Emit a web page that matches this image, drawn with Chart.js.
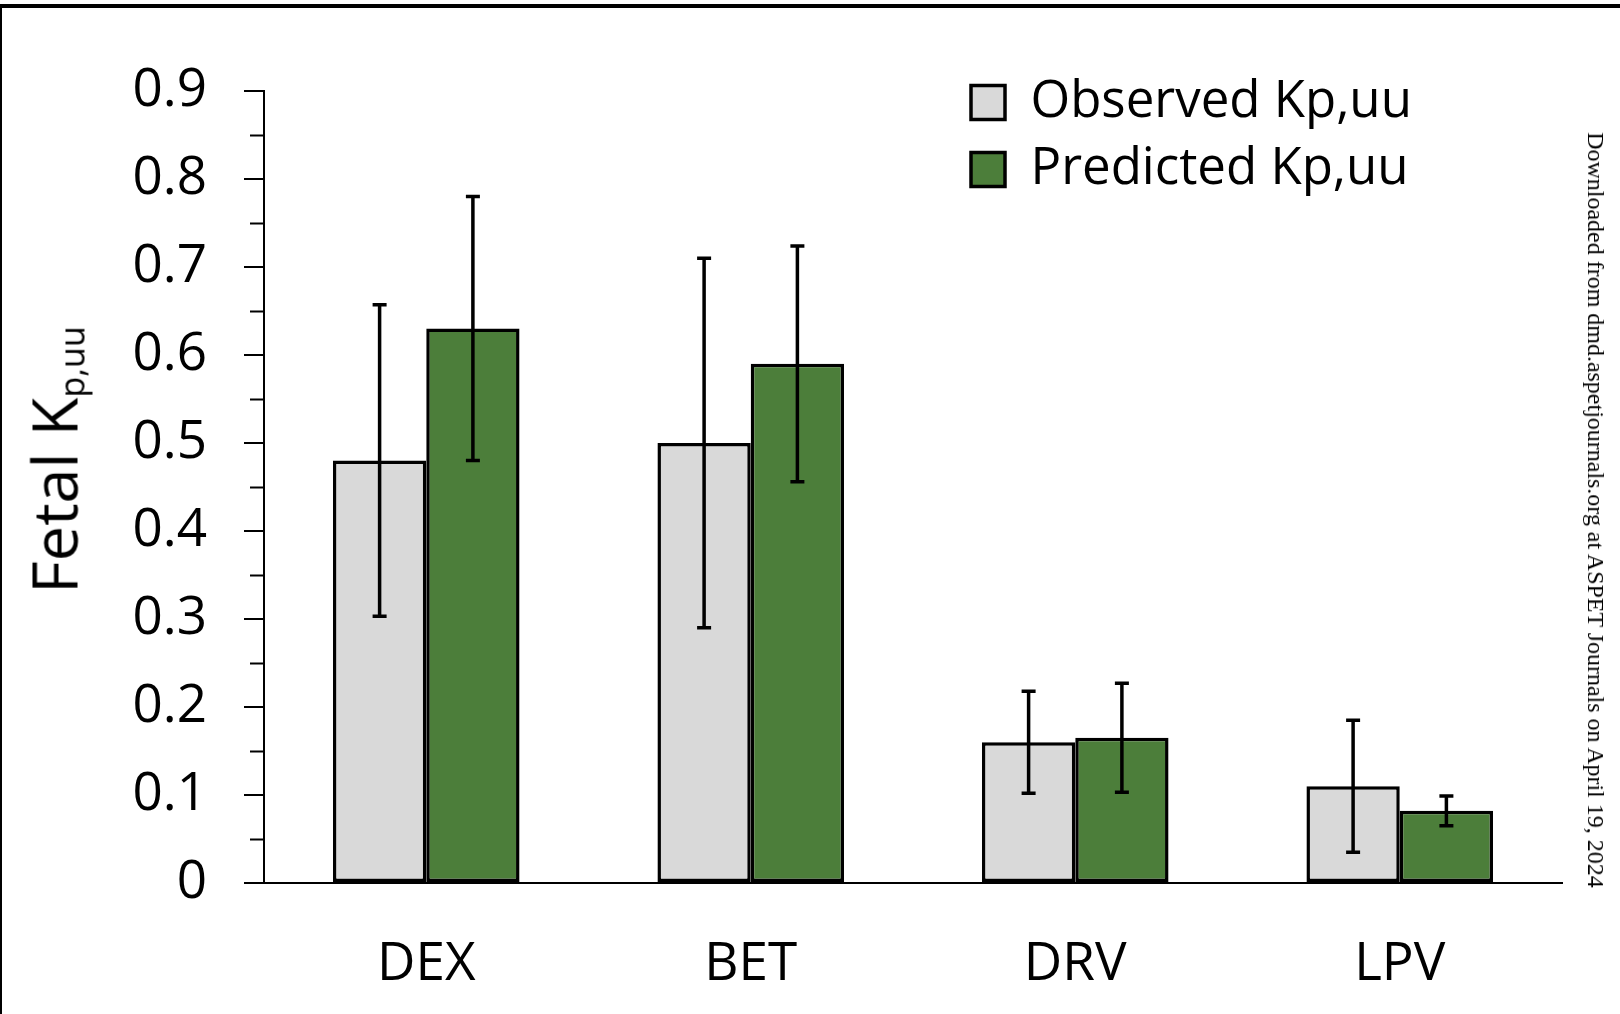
<!DOCTYPE html>
<html>
<head>
<meta charset="utf-8">
<script src="https://cdn.jsdelivr.net/npm/chart.js@4.4.1/dist/chart.umd.min.js"></script>
<style>
html, body { margin: 0; padding: 0; background: #fff; }
#wrap { position: relative; width: 1620px; height: 1014px; overflow: hidden; }
#frame { position: absolute; left: 0; top: 4px; width: 1700px; height: 1100px; border-top: 4px solid #000; border-left: 2px solid #000; }
#chart { position: absolute; left: 0; top: 0; }
#ytitle { position: absolute; left: 53px; top: 460px; transform: translate(-50%, -50%) rotate(-90deg);
  font-family: 'Open Sans'; font-size: 63px; line-height: 1; white-space: nowrap; color: #000; }
#ytitle sub { font-size: 34px; vertical-align: baseline; position: relative; top: 7px; line-height: 0; }
#note { position: absolute; left: 1596px; top: 510px; font-family: 'Liberation Serif', 'DejaVu Serif', 'Times New Roman', serif;
  font-size: 24px; line-height: 1; white-space: nowrap; color: #000; }
</style>
</head>
<body>
<div id="wrap">
  <div id="frame"></div>
  <canvas id="chart" width="1620" height="1014"></canvas>
  <div id="ytitle">Fetal K<sub>p,uu</sub></div>
  <div id="note">Downloaded from dmd.aspetjournals.org at ASPET Journals on April 19, 2024</div>
</div>
<script>
var drugs = ["DEX", "BET", "DRV", "LPV"];
var observed = [0.48, 0.50, 0.16, 0.11];
var observedErr = [0.177, 0.21, 0.058, 0.075];
var predicted = [0.63, 0.59, 0.165, 0.082];
var predictedErr = [0.15, 0.134, 0.062, 0.017];
var yTickLabels = ["0", "0.1", "0.2", "0.3", "0.4", "0.5", "0.6", "0.7", "0.8", "0.9"];

// squeeze the side note to the length it has in the figure
var note = document.getElementById('note');
var sx = 755 / note.offsetWidth;
note.style.transform = 'translate(-50%, -50%) rotate(90deg) scale(' + sx + ', 1)';

// error bars, drawn through the y scale
var errorBars = {
    id: 'errorBars',
    afterDatasetsDraw: function(chart) {
        var ctx = chart.ctx;
        var y = chart.scales.y;
        var errs = [observedErr, predictedErr];
        ctx.save();
        ctx.strokeStyle = '#000';
        ctx.lineWidth = 3.5;
        chart.data.datasets.forEach(function(ds, i) {
            chart.getDatasetMeta(i).data.forEach(function(bar, j) {
                var hi = y.getPixelForValue(ds.data[j] + errs[i][j]);
                var lo = y.getPixelForValue(ds.data[j] - errs[i][j]);
                ctx.beginPath();
                ctx.moveTo(bar.x, hi); ctx.lineTo(bar.x, lo);
                ctx.moveTo(bar.x - 7, hi); ctx.lineTo(bar.x + 7, hi);
                ctx.moveTo(bar.x - 7, lo); ctx.lineTo(bar.x + 7, lo);
                ctx.stroke();
            });
        });
        ctx.restore();
    }
};

// short minor ticks halfway between the labelled ones
var minorTicks = {
    id: 'minorTicks',
    afterDraw: function(chart) {
        var y = chart.scales.y;
        var ctx = chart.ctx;
        ctx.save();
        ctx.strokeStyle = '#000';
        ctx.lineWidth = 2;
        for (var i = 0; i < y.ticks.length - 1; i++) {
            var v = (y.ticks[i].value + y.ticks[i + 1].value) / 2;
            var p = Math.round(y.getPixelForValue(v)) + 0.5;
            ctx.beginPath();
            ctx.moveTo(y.right - 14, p);
            ctx.lineTo(y.right, p);
            ctx.stroke();
        }
        ctx.restore();
    }
};

// put the legend inside the plot, top right
var legendSpot = {
    id: 'legendSpot',
    afterLayout: function(chart) {
        var lg = chart.legend, a = chart.chartArea;
        lg.left = a.right - 607;
        lg.top = a.top - 30;
        lg.right = lg.left + lg.width;
        lg.bottom = lg.top + lg.height;
    }
};

var ctx = document.getElementById('chart').getContext('2d');
var chart = new Chart(ctx, {
    type: 'bar',
    data: {
        labels: drugs,
        datasets: [{
            label: "Observed Kp,uu",
            data: observed,
            backgroundColor: '#d9d9d9',
            borderColor: '#000',
            borderWidth: 3.5,
            borderSkipped: false
        }, {
            label: "Predicted Kp,uu",
            data: predicted,
            backgroundColor: '#4c7e3a',
            borderColor: '#000',
            borderWidth: 3.5,
            borderSkipped: false
        }]
    },
    options: {
        responsive: false,
        animation: false,
        events: [],
        layout: { padding: { top: 91, right: 58, left: 0, bottom: 0 } },
        datasets: { bar: { categoryPercentage: 0.575, barPercentage: 1 } },
        scales: {
            x: {
                grid: { display: false, drawTicks: false },
                border: { display: true, color: '#000', width: 2 },
                ticks: { color: '#000', padding: 50, font: { family: 'Open Sans', size: 53 } },
                afterFit: function(s) { s.height = 131; }
            },
            y: {
                min: 0, max: 0.9,
                grid: { drawOnChartArea: false, drawTicks: true, tickLength: 20, color: '#000', lineWidth: 2 },
                border: { display: true, color: '#000', width: 2 },
                ticks: {
                    stepSize: 0.1, color: '#000', padding: 37,
                    font: { family: 'Open Sans', size: 53 },
                    callback: function(v, i) { return yTickLabels[i]; }
                },
                afterFit: function(s) { s.width = 264; }
            }
        },
        plugins: {
            legend: {
                position: 'chartArea',
                align: 'start',
                labels: {
                    color: '#000',
                    boxWidth: 34, boxHeight: 34, padding: 16,
                    font: { family: 'Open Sans', size: 51 }
                }
            },
            tooltip: { enabled: false }
        }
    },
    plugins: [errorBars, minorTicks, legendSpot]
});
</script>
</body>
</html>
